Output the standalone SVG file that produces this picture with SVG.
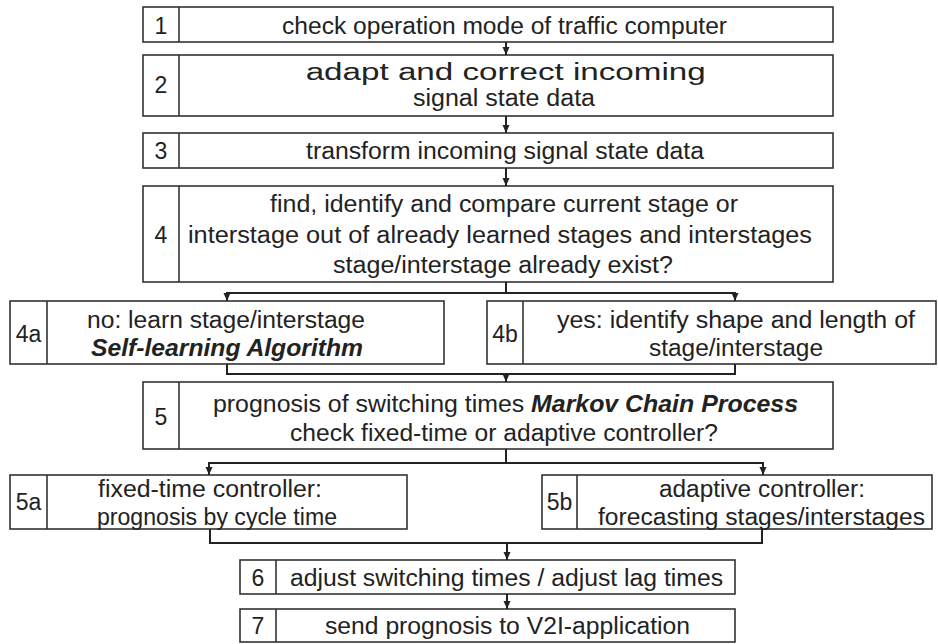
<svg xmlns="http://www.w3.org/2000/svg" width="938" height="644" viewBox="0 0 938 644">
<style>
.box{fill:#fff;stroke:#333;stroke-width:1.6}
.div{stroke:#333;stroke-width:1.6}
.t{font-family:"Liberation Sans",Arial,sans-serif;font-size:23px;fill:#222;text-anchor:middle}
.bi{font-weight:bold;font-style:italic}
.c{fill:none;stroke:#222;stroke-width:2}
</style>
<defs>
<marker id="ah" markerUnits="userSpaceOnUse" markerWidth="8" markerHeight="8" refX="8" refY="4" orient="auto" viewBox="0 0 8 8">
<path d="M0,0.5 L8,4 L0,7.5 Z" fill="#222"/>
</marker>
</defs>
<rect width="938" height="644" fill="#fff"/>
<g id="n1">
<rect class="box" x="143" y="7" width="690" height="35"/>
<line class="div" x1="179" y1="7" x2="179" y2="42"/>
<text class="t" x="161" y="34">1</text>
<text class="t" x="504.5" y="34" textLength="445" lengthAdjust="spacingAndGlyphs">check operation mode of traffic computer</text>
</g>
<g id="n2">
<rect class="box" x="143" y="55" width="690" height="61"/>
<line class="div" x1="179" y1="55" x2="179" y2="116"/>
<text class="t" x="161" y="93">2</text>
<text class="t" x="505.7" y="80" textLength="400" lengthAdjust="spacingAndGlyphs">adapt and correct incoming</text>
<text class="t" x="504" y="106" textLength="182" lengthAdjust="spacingAndGlyphs">signal state data</text>
</g>
<g id="n3">
<rect class="box" x="143" y="133" width="690" height="35"/>
<line class="div" x1="179" y1="133" x2="179" y2="168"/>
<text class="t" x="161" y="159">3</text>
<text class="t" x="505" y="159" textLength="398" lengthAdjust="spacingAndGlyphs">transform incoming signal state data</text>
</g>
<g id="n4">
<rect class="box" x="143" y="186" width="690" height="96"/>
<line class="div" x1="179" y1="186" x2="179" y2="282"/>
<text class="t" x="161" y="243">4</text>
<text class="t" x="504" y="212" textLength="468" lengthAdjust="spacingAndGlyphs">find, identify and compare current stage or</text>
<text class="t" x="500" y="243" textLength="624" lengthAdjust="spacingAndGlyphs">interstage out of already learned stages and interstages</text>
<text class="t" x="503" y="273" textLength="340" lengthAdjust="spacingAndGlyphs">stage/interstage already exist?</text>
</g>
<g id="n4a">
<rect class="box" x="10" y="301" width="434" height="63"/>
<line class="div" x1="47" y1="301" x2="47" y2="364"/>
<text class="t" x="28.5" y="342">4a</text>
<text class="t" x="226" y="328" textLength="278" lengthAdjust="spacingAndGlyphs">no: learn stage/interstage</text>
<text class="t bi" x="227" y="356" textLength="272" lengthAdjust="spacingAndGlyphs">Self-learning Algorithm</text>
</g>
<g id="n4b">
<rect class="box" x="487" y="301" width="449" height="63"/>
<line class="div" x1="523" y1="301" x2="523" y2="364"/>
<text class="t" x="505" y="342">4b</text>
<text class="t" x="736" y="328" textLength="358" lengthAdjust="spacingAndGlyphs">yes: identify shape and length of</text>
<text class="t" x="736" y="356" textLength="174" lengthAdjust="spacingAndGlyphs">stage/interstage</text>
</g>
<g id="n5">
<rect class="box" x="143" y="382" width="690" height="67"/>
<line class="div" x1="179" y1="382" x2="179" y2="449"/>
<text class="t" x="161" y="425">5</text>
<text class="t" x="505.5" y="412" textLength="585" lengthAdjust="spacingAndGlyphs">prognosis of switching times <tspan class="bi">Markov Chain Process</tspan></text>
<text class="t" x="504" y="441" textLength="428" lengthAdjust="spacingAndGlyphs">check fixed-time or adaptive controller?</text>
</g>
<g id="n5a">
<rect class="box" x="10" y="475" width="397" height="54"/>
<line class="div" x1="47" y1="475" x2="47" y2="529"/>
<text class="t" x="28.5" y="510">5a</text>
<text class="t" x="210" y="497" textLength="224" lengthAdjust="spacingAndGlyphs">fixed-time controller:</text>
<text class="t" x="217" y="525" textLength="240" lengthAdjust="spacingAndGlyphs">prognosis by cycle time</text>
</g>
<g id="n5b">
<rect class="box" x="542" y="475" width="390" height="54"/>
<line class="div" x1="577" y1="475" x2="577" y2="529"/>
<text class="t" x="559.5" y="510">5b</text>
<text class="t" x="762" y="497" textLength="206" lengthAdjust="spacingAndGlyphs">adaptive controller:</text>
<text class="t" x="761.5" y="525" textLength="327" lengthAdjust="spacingAndGlyphs">forecasting stages/interstages</text>
</g>
<g id="n6">
<rect class="box" x="240" y="560" width="495" height="34"/>
<line class="div" x1="276" y1="560" x2="276" y2="594"/>
<text class="t" x="258" y="586">6</text>
<text class="t" x="506.5" y="586" textLength="433" lengthAdjust="spacingAndGlyphs">adjust switching times / adjust lag times</text>
</g>
<g id="n7">
<rect class="box" x="240" y="609" width="495" height="33"/>
<line class="div" x1="276" y1="609" x2="276" y2="642"/>
<text class="t" x="258" y="634">7</text>
<text class="t" x="507.5" y="634" textLength="365" lengthAdjust="spacingAndGlyphs">send prognosis to V2I-application</text>
</g>
<g id="connectors">
<line class="c" x1="506" y1="42" x2="506" y2="55" marker-end="url(#ah)"/>
<line class="c" x1="506" y1="116" x2="506" y2="133" marker-end="url(#ah)"/>
<line class="c" x1="506" y1="168" x2="506" y2="186" marker-end="url(#ah)"/>
<polyline class="c" points="506,282 506,293"/>
<line class="c" x1="227" y1="293" x2="735" y2="293"/>
<line class="c" x1="227" y1="292" x2="227" y2="301" marker-end="url(#ah)"/>
<line class="c" x1="735" y1="292" x2="735" y2="301" marker-end="url(#ah)"/>
<polyline class="c" points="227,364 227,374 735,374 735,364"/>
<line class="c" x1="506" y1="374" x2="506" y2="382" marker-end="url(#ah)"/>
<polyline class="c" points="506,449 506,463"/>
<line class="c" x1="209" y1="463" x2="763" y2="463"/>
<line class="c" x1="209" y1="462" x2="209" y2="475" marker-end="url(#ah)"/>
<line class="c" x1="763" y1="462" x2="763" y2="475" marker-end="url(#ah)"/>
<polyline class="c" points="210,529 210,543 762,543 762,529"/>
<line class="c" x1="507" y1="543" x2="507" y2="560" marker-end="url(#ah)"/>
<line class="c" x1="507" y1="594" x2="507" y2="609" marker-end="url(#ah)"/>
</g>
</svg>
